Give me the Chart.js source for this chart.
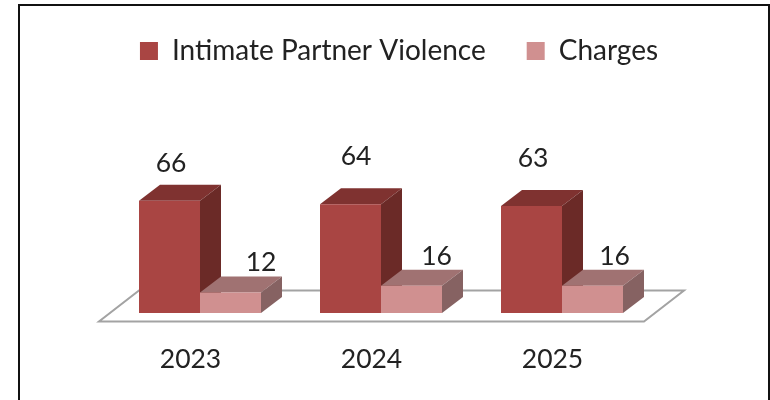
<!DOCTYPE html>
<html>
<head>
<meta charset="utf-8">
<style>
  html, body { margin: 0; padding: 0; background: #fff; overflow: hidden; }
  #frame { position: absolute; left: 18px; top: 4px; width: 748px; height: 420px; border: 2px solid #111; }
  #chart { position: absolute; left: 0; top: 0; }
</style>
<script src="https://cdn.jsdelivr.net/npm/chart.js@4"></script>
</head>
<body>
<div id="frame"></div>
<canvas id="chart" width="770" height="400"></canvas>
<script>
const categories = ['2023', '2024', '2025'];
const violence = [66, 64, 63];
const charges = [12, 16, 16];

const FONT = { family: 'Lato', size: 26.5 };
const LEGEND_FONT = { family: 'Lato', size: 28 };
const TEXT = '#222222';
const DEPTH_X = 21;
const DEPTH_Y = 16;

// the labels were hand placed in the original, so each has its own shift from the bar
const labelShift = [
    [[1.5, -29], [5.5, -39], [1.5, -39]],
    [[30.5, -22], [25, -21], [22, -21]]
];

function poly(ctx, pts, color) {
    ctx.fillStyle = color;
    ctx.beginPath();
    pts.forEach((p, i) => i ? ctx.lineTo(p[0], p[1]) : ctx.moveTo(p[0], p[1]));
    ctx.closePath();
    ctx.fill();
}

const box3d = {
    id: 'box3d',
    beforeDatasetsDraw(chart) {
        const { ctx, chartArea } = chart;
        const bottom = chartArea.bottom;
        ctx.save();
        ctx.strokeStyle = '#a3a3a3';
        ctx.lineWidth = 2;
        ctx.beginPath();
        ctx.moveTo(chartArea.left - 10.5, bottom + 8.5);
        ctx.lineTo(chartArea.right - 8.5, bottom + 8.5);
        ctx.lineTo(chartArea.right + 31.5, bottom - 22.5);
        ctx.lineTo(chartArea.left + 29.5, bottom - 22.5);
        ctx.closePath();
        ctx.stroke();
        // tops and sides go first, red then pink, so the pink box sits in front of the red side
        chart.data.datasets.forEach((ds, i) => {
            chart.getDatasetMeta(i).data.forEach(bar => {
                const l = bar.x - bar.width / 2;
                const r = bar.x + bar.width / 2;
                poly(ctx, [[l, bar.y], [l + DEPTH_X, bar.y - DEPTH_Y], [r + DEPTH_X, bar.y - DEPTH_Y], [r, bar.y]], ds.topColor);
                poly(ctx, [[r, bar.y], [r + DEPTH_X, bar.y - DEPTH_Y], [r + DEPTH_X, bar.base - DEPTH_Y], [r, bar.base]], ds.sideColor);
            });
        });
        ctx.restore();
    },
    afterDatasetsDraw(chart) {
        const ctx = chart.ctx;
        ctx.save();
        ctx.font = `${FONT.size}px ${FONT.family}`;
        ctx.fillStyle = TEXT;
        ctx.textAlign = 'center';
        ctx.textBaseline = 'alphabetic';
        chart.data.datasets.forEach((ds, i) => {
            chart.getDatasetMeta(i).data.forEach((bar, j) => {
                const shift = labelShift[i][j];
                ctx.fillText(ds.data[j], bar.x + shift[0], bar.y + shift[1]);
            });
        });
        ctx.restore();
    }
};

new Chart(document.getElementById('chart'), {
    type: 'bar',
    data: {
        labels: categories,
        datasets: [
            {
                label: 'Intimate Partner Violence',
                data: violence,
                backgroundColor: '#a94543',
                topColor: '#7f3230',
                sideColor: '#6b2a27'
            },
            {
                label: 'Charges',
                data: charges,
                backgroundColor: '#d09090',
                topColor: '#a07272',
                sideColor: '#866262'
            }
        ]
    },
    plugins: [box3d],
    options: {
        responsive: false,
        animation: false,
        layout: { padding: { left: 28, right: 0, top: -4, bottom: 0 } },
        datasets: { bar: { categoryPercentage: 0.674, barPercentage: 1 } },
        plugins: {
            tooltip: { enabled: false },
            legend: {
                position: 'top',
                labels: { font: LEGEND_FONT, color: TEXT, boxWidth: 18, boxHeight: 18, padding: 41 }
            }
        },
        scales: {
            x: {
                grid: { display: false },
                border: { display: false },
                ticks: { font: FONT, color: TEXT, padding: 23, labelOffset: -9.5, maxRotation: 0 },
                afterFit(scale) { scale.height = 87; }
            },
            y: {
                display: false,
                min: 0,
                max: 140,
                afterFit(scale) { scale.width = 81.5; }
            },
            spacer: {
                display: false,
                position: 'right',
                afterFit(scale) { scale.width = 117.5; }
            }
        }
    }
});
</script>
</body>
</html>
